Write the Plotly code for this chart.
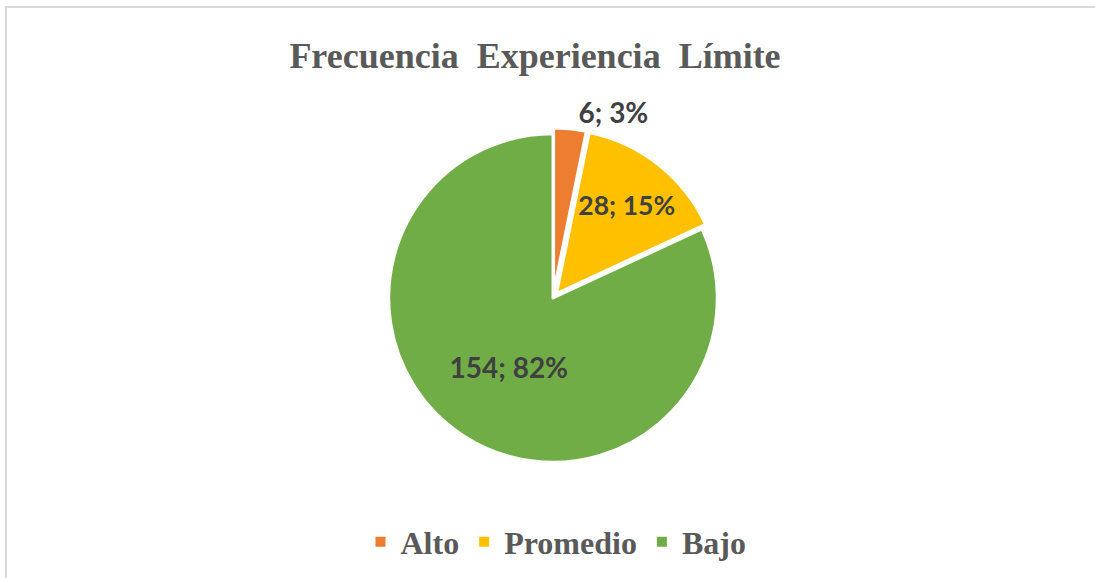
import plotly.graph_objects as go

categories = ["Alto", "Promedio", "Bajo"]
values = [6, 28, 154]
colors = ["#ED7D31", "#FFC000", "#70AD47"]

total = sum(values)
labels_text = [f"{v}; {round(100 * v / total)}%" for v in values]

W, H = 1095, 578

def px(x):
    return x / W

def py(y):
    return 1 - y / H

R = 170
CX, CY = 553, 298

fig = go.Figure()
fig.add_trace(go.Pie(
    labels=categories,
    values=values,
    text=labels_text,
    textinfo="text",
    textposition=["outside", "inside", "inside"],
    insidetextorientation="horizontal",
    sort=False,
    direction="clockwise",
    rotation=0,
    pull=[0.035, 0.035, 0],
    marker=dict(colors=colors, line=dict(color="white", width=3)),
    textfont=dict(family="Lato", size=28, color="#404040", weight="bold"),
    outsidetextfont=dict(family="Lato", size=28, color="#404040", weight="bold"),
    insidetextfont=dict(family="Lato", size=28, color="#404040", weight="bold"),
    domain=dict(x=[px(CX - R), px(CX + R)], y=[py(CY + R), py(CY - R)]),
    hoverinfo="label+value+percent",
))

serif = "Liberation Serif, Times New Roman, serif"

fig.update_layout(
    width=W, height=H,
    margin=dict(l=0, r=0, t=0, b=0),
    paper_bgcolor="white",
    title=dict(
        text="<b>Frecuencia  Experiencia  Límite</b>",
        x=px(535), xanchor="center",
        y=py(55), yanchor="middle",
        font=dict(family=serif, size=36, color="#595959"),
    ),
    showlegend=True,
    legend=dict(
        orientation="h",
        x=px(556), xanchor="center",
        y=py(542), yanchor="middle",
        font=dict(family=serif, size=32, color="#595959", weight="bold"),
        itemsizing="constant",
    ),
    shapes=[dict(
        type="rect", xref="paper", yref="paper",
        x0=px(6), x1=1.02, y0=-0.02, y1=py(7),
        line=dict(color="#D9D9D9", width=2),
    )],
)

fig.write_html(
    "out.html",
    config={"displayModeBar": False},
    post_script="document.body.style.margin='0';document.body.style.padding='0';",
)
